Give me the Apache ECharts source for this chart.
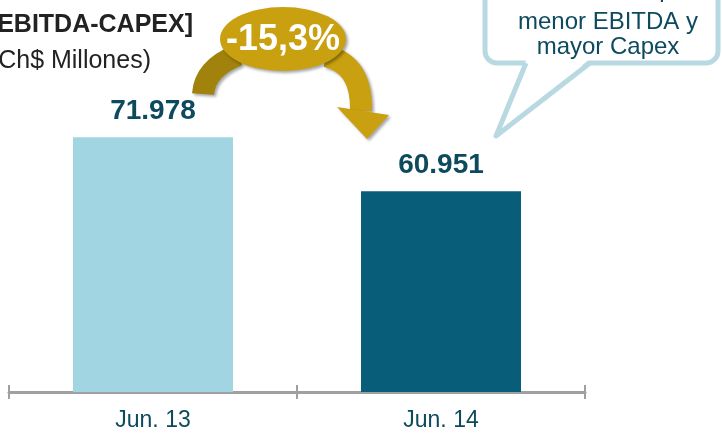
<!DOCTYPE html>
<html>
<head>
<meta charset="utf-8">
<script src="https://cdn.jsdelivr.net/npm/echarts@6/dist/echarts.min.js"></script>
<style>
  html, body { margin: 0; padding: 0; background: #fff; }
  #chart { width: 722px; height: 434px; }
</style>
</head>
<body>
<div id="chart"></div>
<script>
const categories = ['Jun. 13', 'Jun. 14']
const values = [71978, 60951]
const barColors = ['#a2d5e2', '#085e78']
const changeLabel = '-15,3%'
const titleText = '[Flujo EBITDA-CAPEX]'
const subtitleText = '(Ch$ Millones)'
const bubbleLines = ['Disminución por', 'menor EBITDA y', 'mayor Capex']

const FONT = 'Liberation Sans, Arial, sans-serif'
const TEXT_DARK = '#0e4a5e'
const GOLD = '#c8a010'
const GOLD_DARK = '#a0820c'
const BUBBLE = '#b8d9e1'

// número con punto de miles
function fmt(v) {
  return String(v).replace(/\B(?=(\d{3})+(?!\d))/g, '.')
}

const chart = echarts.init(document.getElementById('chart'))

const shadow = { shadowBlur: 3, shadowColor: 'rgba(0,0,0,0.35)', shadowOffsetX: 2, shadowOffsetY: 2 }

chart.setOption({
  animation: false,
  grid: { left: 9, right: 137, top: 0, bottom: 42 },
  xAxis: [
    {
      type: 'category',
      data: categories,
      axisLine: { lineStyle: { color: '#a0a0a0', width: 3 } },
      axisTick: { show: true, length: 7, lineStyle: { color: '#a0a0a0', width: 2 } },
      axisLabel: { color: TEXT_DARK, fontFamily: FONT, fontSize: 23, margin: 17 }
    },
    {
      type: 'category',
      data: categories,
      position: 'bottom',
      axisLine: { show: false },
      axisTick: { show: true, inside: true, length: 7, lineStyle: { color: '#a0a0a0', width: 2 } },
      axisLabel: { show: false }
    }
  ],
  yAxis: { type: 'value', min: 20000, max: 100000, show: false },
  series: [{
    type: 'bar',
    barWidth: 160,
    data: values.map((v, i) => ({ value: v, itemStyle: { color: barColors[i] } })),
    label: {
      show: true,
      position: 'top',
      distance: 12,
      formatter: p => fmt(p.value),
      color: TEXT_DARK,
      fontFamily: FONT,
      fontSize: 28,
      fontWeight: 'bold'
    }
  }],
  graphic: [
    // título recortado a la izquierda
    { type: 'text', x: 193, y: 25, style: { text: titleText, align: 'right', verticalAlign: 'middle', font: 'bold 25px ' + FONT, fill: '#222' } },
    { type: 'text', x: 151, y: 61, style: { text: subtitleText, align: 'right', verticalAlign: 'middle', font: '25px ' + FONT, fill: '#222' } },
    // flecha izquierda
    { type: 'bezierCurve', z: 10, shape: { x1: 203, y1: 94, cpx1: 205, cpy1: 68, x2: 238, y2: 55 }, style: Object.assign({ stroke: GOLD_DARK, lineWidth: 22, fill: null }, shadow) },
    // flecha derecha
    { type: 'bezierCurve', z: 10, shape: { x1: 326, y1: 56, cpx1: 362, cpy1: 64, x2: 361, y2: 111 }, style: Object.assign({ stroke: GOLD, lineWidth: 22, fill: null }, shadow) },
    { type: 'polygon', z: 10, shape: { points: [[337, 107], [389, 115], [367, 139]] }, style: Object.assign({ fill: GOLD }, shadow) },
    // elipse
    { type: 'circle', z: 11, x: 283, y: 39, scaleY: 32 / 63, shape: { cx: 0, cy: 0, r: 63 }, style: Object.assign({ fill: GOLD }, shadow) },
    { type: 'text', z: 12, x: 283, y: 40, style: { text: changeLabel, align: 'center', verticalAlign: 'middle', font: 'bold 36px ' + FONT, fill: '#fff' } },
    // globo de texto
    { type: 'rect', z: 5, shape: { x: 485, y: -40, width: 233, height: 103, r: 12 }, style: { fill: '#fff', stroke: BUBBLE, lineWidth: 5 } },
    { type: 'polygon', z: 6, shape: { points: [[527, 58], [591, 58], [496, 136]] }, style: { fill: '#fff' } },
    { type: 'polyline', z: 7, shape: { points: [[526, 63], [496, 136], [590, 63]] }, style: { stroke: BUBBLE, lineWidth: 5, lineJoin: 'round', fill: null } },
    { type: 'text', z: 8, x: 608, y: -10, style: { text: bubbleLines[0], align: 'center', verticalAlign: 'middle', font: '24px ' + FONT, fill: TEXT_DARK } },
    { type: 'text', z: 8, x: 608, y: 22, style: { text: bubbleLines[1], align: 'center', verticalAlign: 'middle', font: '24px ' + FONT, fill: TEXT_DARK } },
    { type: 'text', z: 8, x: 608, y: 47, style: { text: bubbleLines[2], align: 'center', verticalAlign: 'middle', font: '24px ' + FONT, fill: TEXT_DARK } }
  ]
})
</script>
</body>
</html>
